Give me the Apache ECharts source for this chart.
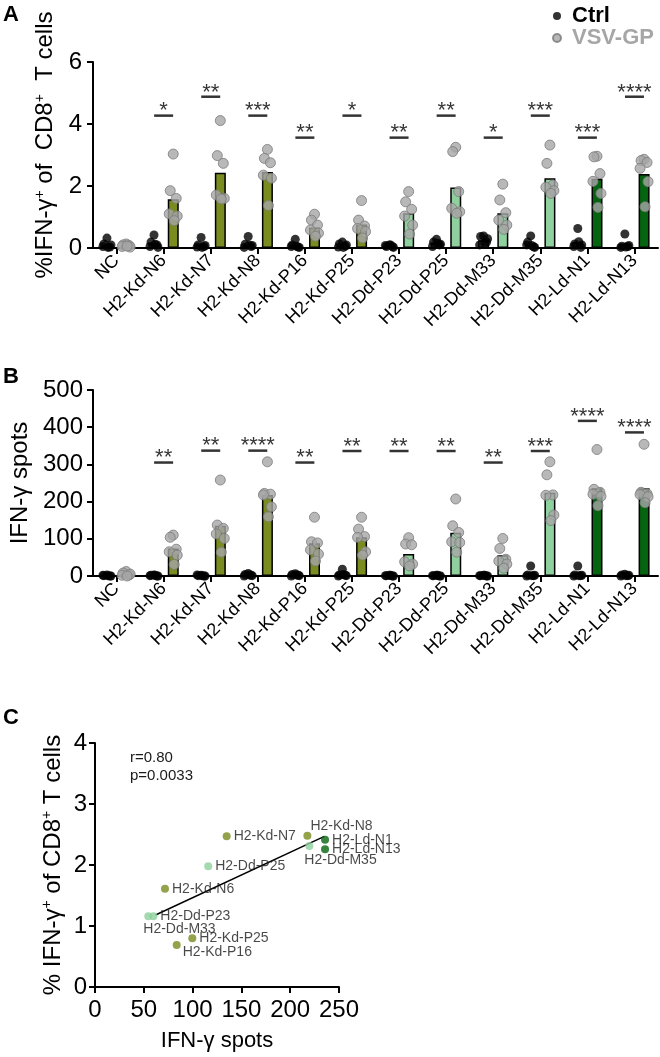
<!DOCTYPE html>
<html>
<head>
<meta charset="utf-8">
<script src="https://cdn.jsdelivr.net/npm/echarts@6/dist/echarts.min.js"></script>
<style>
  html, body { margin: 0; padding: 0; background: #fff; }
  #chart { width: 660px; height: 1057px; }
</style>
</head>
<body>
<div id="chart"></div>
<script>
// ---- data ----
const categories = ['NC', 'H2-Kd-N6', 'H2-Kd-N7', 'H2-Kd-N8', 'H2-Kd-P16', 'H2-Kd-P25',
  'H2-Dd-P23', 'H2-Dd-P25', 'H2-Dd-M33', 'H2-Dd-M35', 'H2-Ld-N1', 'H2-Ld-N13']
const groups = ['nc', 'kd', 'kd', 'kd', 'kd', 'kd', 'dd', 'dd', 'dd', 'dd', 'ld', 'ld']

// panel A: % IFN-g+ of CD8+ T cells
const ctrlA = [
  [0.32, 0.13, 0.03, 0.05, 0.1, 0.02],
  [0.42, 0.19, 0.1, 0.05, 0.02, 0.12],
  [0.34, 0.1, 0.05, 0.03, 0.08, 0.02],
  [0.37, 0.12, 0.05, 0.02, 0.08, 0.1],
  [0.28, 0.1, 0.03, 0.05, 0.02, 0.06],
  [0.19, 0.13, 0.06, 0.03, 0.1, 0.02],
  [0.1, 0.05, 0.05, 0.08, 0.02, 0.1],
  [0.28, 0.19, 0.1, 0.05, 0.12, 0.15],
  [0.39, 0.37, 0.19, 0.1, 0.3, 0.15],
  [0.39, 0.19, 0.04, 0.1, 0.02, 0.08],
  [0.63, 0.13, 0.02, 0.05, 0.1, 0.2],
  [0.45, 0.06, 0.05, 0.02, 0.08, 0.03]
]
const vsvA = [
  [0.13, 0.1, 0.08, 0.05, 0.03, 0.06],
  [3.03, 1.85, 1.6, 1.1, 1.03, 0.88],
  [4.11, 2.98, 2.73, 1.71, 1.6, 1.58],
  [3.18, 2.89, 2.75, 2.35, 2.25, 1.37],
  [1.09, 0.9, 0.74, 0.58, 0.48, 0.38],
  [1.53, 0.9, 0.71, 0.63, 0.53, 0.32],
  [1.82, 1.49, 1.25, 1.03, 0.74, 0.45],
  [3.25, 3.11, 1.82, 1.28, 1.17, 1.12],
  [2.06, 1.55, 1.14, 0.9, 0.74, 0.6],
  [3.32, 2.73, 2.03, 1.96, 1.85, 1.76],
  [2.96, 2.94, 2.4, 2.15, 1.76, 1.31],
  [2.86, 2.82, 2.76, 2.57, 2.14, 1.33]
]
const ctrlBarA = [0.1, 0.15, 0.1, 0.12, 0.09, 0.09, 0.07, 0.15, 0.25, 0.14, 0.19, 0.12]
const vsvBarA = [0.08, 1.57, 2.43, 2.45, 0.66, 0.76, 1.12, 1.95, 1.12, 2.25, 2.23, 2.39]
const sigA = ['', '*', '**', '***', '**', '*', '**', '**', '*', '***', '***', '****']
const sigAY = [null, 4.27, 4.88, 4.27, 3.56, 4.27, 3.56, 4.27, 3.56, 4.27, 3.56, 4.88]

// panel B: IFN-g spots
const ctrlB = [
  [3, 1, 0, 2, 0, 1],
  [3, 2, 0, 1, 0, 2],
  [2, 1, 0, 3, 0, 1],
  [7, 4, 2, 0, 1, 3],
  [6, 4, 2, 0, 1, 3],
  [18, 3, 2, 0, 1, 4],
  [2, 1, 0, 1, 0, 2],
  [2, 1, 0, 1, 0, 2],
  [2, 1, 0, 1, 0, 2],
  [27, 3, 1, 0, 2, 1],
  [27, 3, 1, 0, 2, 1],
  [5, 3, 1, 0, 2, 1]
]
const vsvB = [
  [12, 8, 3, 2, 5, 0],
  [110, 104, 72, 65, 56, 31],
  [258, 137, 128, 113, 101, 64],
  [307, 222, 220, 218, 186, 159],
  [158, 92, 89, 70, 59, 40],
  [158, 126, 106, 104, 65, 56],
  [103, 86, 84, 38, 32, 27],
  [207, 135, 117, 92, 90, 64],
  [101, 74, 45, 40, 32, 21],
  [307, 272, 218, 217, 164, 149],
  [340, 233, 225, 220, 214, 189],
  [354, 225, 221, 219, 213, 197]
]
const ctrlBarB = [1, 1, 1, 3, 3, 5, 1, 1, 1, 6, 6, 2]
const vsvBarB = [5, 74, 135, 218, 88, 104, 59, 116, 56, 224, 236, 236]
const sigB = ['', '**', '**', '****', '**', '**', '**', '**', '**', '***', '****', '****']
const sigBY = [null, 305, 337, 337, 305, 336, 336, 336, 305, 336, 417, 386]

// panel C: correlation
const cLabels = ['H2-Kd-N6', 'H2-Kd-N7', 'H2-Kd-N8', 'H2-Kd-P16', 'H2-Kd-P25', 'H2-Dd-P23',
  'H2-Dd-P25', 'H2-Dd-M33', 'H2-Dd-M35', 'H2-Ld-N1', 'H2-Ld-N13']
const cGroups = ['kd', 'kd', 'kd', 'kd', 'kd', 'dd', 'dd', 'dd', 'dd', 'ld', 'ld']
const cSpots = [71.7, 134.9, 217.6, 83.7, 99.7, 59.8, 116, 54.6, 219.6, 235.7, 235.7]
const cPct = [1.61, 2.47, 2.48, 0.69, 0.8, 1.16, 1.98, 1.16, 2.31, 2.415, 2.26]
const fitX = [62, 235]
const fitY = [1.18, 2.47]

// ---- style ----
const FONT = 'Liberation Sans, Arial, Helvetica, sans-serif'
const groupColor = { nc: '#ffffff', kd: '#7a8b1f', dd: '#8fd19e', ld: '#05640f' }
const GRAY = '#a6a6a6'
const jitter = [0, -3, 3, -4, 4, 1]
const HALF = 9.6

// per-label placement tweaks in panel C
const cLabelPos = {
  'H2-Kd-N8': [-4, -10],
  'H2-Dd-M35': [-12, 14],
  'H2-Dd-M33': [-12, 13],
  'H2-Kd-P16': [-1, 7]
}

const chart = echarts.init(document.getElementById('chart'), null, { renderer: 'canvas' })

function dots(values, side) {
  const out = []
  values.forEach((vals, i) => {
    vals.forEach((v, k) => {
      out.push({ value: [i, v], symbolOffset: [side * HALF + jitter[k % jitter.length], 0] })
    })
  })
  return out
}

function sigData(labels, ys) {
  return labels.map((s, i) => (s ? { value: [i, ys[i]], label: { formatter: s } } : null)).filter(Boolean)
}

const axisLine = { show: true, lineStyle: { color: '#000', width: 2 } }
const axisTick = { show: true, length: 6, lineStyle: { color: '#000', width: 2 } }
const supRich = { sup: { fontSize: 14, color: '#000', padding: [0, 0, 12, 0] } }

function catAxis(gridIndex) {
  return {
    type: 'category',
    gridIndex,
    data: categories,
    axisLine,
    axisTick: Object.assign({ alignWithLabel: true }, axisTick),
    axisLabel: { rotate: 45, fontSize: 18, color: '#000', margin: 10, interval: 0 }
  }
}

function valAxis(gridIndex, max, interval, name, gap, margin) {
  return {
    type: 'value',
    gridIndex,
    min: 0,
    max,
    interval,
    axisLine,
    axisTick,
    splitLine: { show: false },
    axisLabel: { fontSize: 24, color: '#000', margin },
    name,
    nameLocation: 'middle',
    nameGap: gap,
    nameTextStyle: { fontSize: 24, color: '#000', rich: supRich }
  }
}

function barSeries(idx, data, isCtrl) {
  return {
    type: 'bar',
    xAxisIndex: idx,
    yAxisIndex: idx,
    barWidth: 11,
    barGap: '75%',
    z: 2,
    data: data.map((v, i) => ({
      value: v,
      itemStyle: { color: isCtrl ? '#ffffff' : groupColor[groups[i]] }
    })),
    itemStyle: { borderColor: '#000', borderWidth: 1.5 },
    silent: true
  }
}

function dotSeries(idx, name, data, side) {
  return {
    type: 'scatter',
    name,
    xAxisIndex: idx,
    yAxisIndex: idx,
    z: 4,
    symbolSize: side < 0 ? 9 : 10,
    itemStyle: side < 0
      ? { color: '#000' }
      : { color: GRAY, borderColor: '#7a7a7a', borderWidth: 1 },
    data: dots(data, side)
  }
}

function sigSeries(idx, labels, ys) {
  return {
    type: 'scatter',
    xAxisIndex: idx,
    yAxisIndex: idx,
    symbol: 'rect',
    symbolSize: [19, 2.5],
    itemStyle: { color: '#000' },
    z: 5,
    label: { show: true, position: 'top', distance: 0, offset: [0, 8], fontSize: 22, color: '#000' },
    data: sigData(labels, ys),
    silent: true
  }
}

const option = {
  animation: false,
  textStyle: { fontFamily: FONT },
  legend: {
    left: 547,
    top: 0,
    orient: 'vertical',
    itemGap: 0,
    itemWidth: 8,
    itemHeight: 8,
    icon: 'circle',
    textStyle: { fontSize: 22, fontWeight: 'bold', fontFamily: FONT, padding: [0, 0, 0, 6] },
    data: [
      { name: 'Ctrl', textStyle: { color: '#000' } },
      { name: 'VSV-GP', textStyle: { color: GRAY } }
    ]
  },
  grid: [
    { left: 93, top: 62, width: 565, height: 186 },
    { left: 93, top: 390, width: 565, height: 186 },
    { left: 95, top: 743, width: 244, height: 244 }
  ],
  xAxis: [
    catAxis(0),
    catAxis(1),
    {
      type: 'value',
      gridIndex: 2,
      min: 0,
      max: 250,
      interval: 50,
      axisLine,
      axisTick,
      splitLine: { show: false },
      axisLabel: { fontSize: 24, color: '#000', margin: 11 },
      name: 'IFN-γ spots',
      nameLocation: 'middle',
      nameGap: 43,
      nameTextStyle: { fontSize: 22, color: '#000' }
    }
  ],
  yAxis: [
    valAxis(0, 6, 2, '   %IFN-γ{sup|+} of  CD8{sup|+}  T cells', 22, 11),
    valAxis(1, 500, 100, 'IFN-γ spots', 38, 10),
    valAxis(2, 4, 1, '% IFN-γ{sup|+} of CD8{sup|+} T cells', 29, 8)
  ],
  series: [
    barSeries(0, ctrlBarA, true),
    barSeries(0, vsvBarA, false),
    dotSeries(0, 'Ctrl', ctrlA, -1),
    dotSeries(0, 'VSV-GP', vsvA, 1),
    sigSeries(0, sigA, sigAY),

    barSeries(1, ctrlBarB, true),
    barSeries(1, vsvBarB, false),
    dotSeries(1, 'Ctrl', ctrlB, -1),
    dotSeries(1, 'VSV-GP', vsvB, 1),
    sigSeries(1, sigB, sigBY),

    {
      type: 'line',
      xAxisIndex: 2,
      yAxisIndex: 2,
      symbol: 'none',
      lineStyle: { color: '#000', width: 1.5 },
      z: 3,
      data: fitX.map((x, i) => [x, fitY[i]])
    },
    {
      type: 'scatter',
      xAxisIndex: 2,
      yAxisIndex: 2,
      symbolSize: 8,
      z: 4,
      label: {
        show: true,
        position: 'right',
        distance: 3,
        fontSize: 14,
        color: '#1a1a1a',
        formatter: p => p.name
      },
      data: cLabels.map((name, i) => {
        const item = {
          name,
          value: [cSpots[i], cPct[i]],
          itemStyle: { color: groupColor[cGroups[i]] }
        }
        if (cLabelPos[name]) item.label = { offset: cLabelPos[name] }
        return item
      })
    }
  ],
  graphic: [
    { type: 'text', left: 3, top: 4, style: { text: 'A', font: 'bold 22px ' + FONT, fill: '#000' } },
    { type: 'text', left: 3, top: 366, style: { text: 'B', font: 'bold 22px ' + FONT, fill: '#000' } },
    { type: 'text', left: 3, top: 707, style: { text: 'C', font: 'bold 22px ' + FONT, fill: '#000' } },
    { type: 'text', left: 130, top: 749, style: { text: 'r=0.80\np=0.0033', font: '15px ' + FONT, fill: '#1a1a1a', lineHeight: 18 } }
  ]
}

chart.setOption(option)
</script>
</body>
</html>
